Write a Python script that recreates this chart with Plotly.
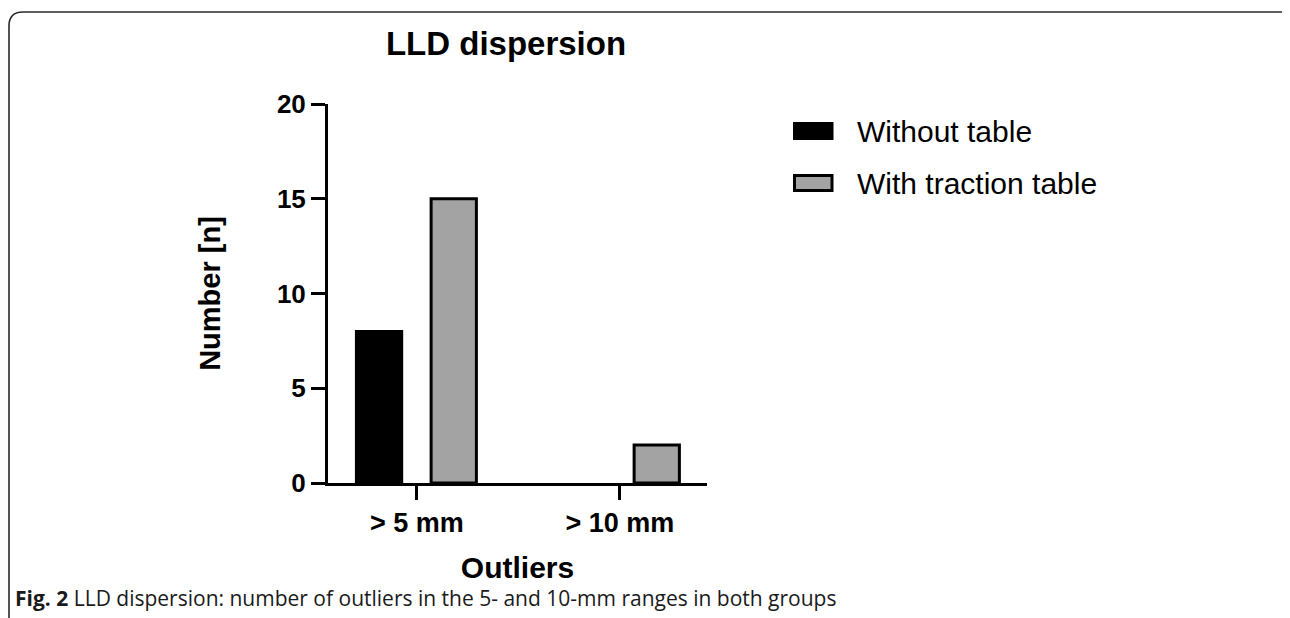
import plotly.graph_objects as go

# ---- data ----
categories = ["> 5 mm", "> 10 mm"]
series_names = ["Without table", "With traction table"]
without_table = [8, 0]
with_traction = [15, 2]
y_ticks = [0, 5, 10, 15, 20]

title_text = "LLD dispersion"
y_title = "Number [n]"
x_title = "Outliers"
caption_bold = "Fig. 2"
caption_text = "LLD dispersion: number of outliers in the 5- and 10-mm ranges in both groups"

# ---- layout geometry (pixels, page coordinates; page has an 8px body margin) ----
OFF = 8
W, H = 1290, 618
L, R, T, B = 328 - OFF, 707 - OFF, 104 - OFF, 483 - OFF
PW, PH = R - L, B - T


def px(x):
    return (x - OFF - L) / PW


def py(y):
    return (B - (y - OFF)) / PH


FONT = "Liberation Sans, Arial, sans-serif"
GRAY = "#a3a3a3"

fig = go.Figure()
fig.add_trace(go.Bar(
    x=categories, y=without_table, name=series_names[0],
    marker=dict(color="black",
                line=dict(color="black", width=[3 if v > 0 else 0 for v in without_table])),
    width=0.223, offset=-0.298, showlegend=False,
))
fig.add_trace(go.Bar(
    x=categories, y=with_traction, name=series_names[1],
    marker=dict(color=GRAY,
                line=dict(color="black", width=[3 if v > 0 else 0 for v in with_traction])),
    width=0.223, offset=0.07, showlegend=False,
))

# frame of the figure panel
frame = (f"M {px(9)},{py(640)} L {px(9)},{py(26)} Q {px(9)},{py(12)} {px(23)},{py(12)} "
         f"L {px(1282)},{py(12)} Q {px(1286)},{py(12)} {px(1287)},{py(16)}")
shapes = [dict(type="path", xref="paper", yref="paper", path=frame,
               line=dict(color="#2a2a2a", width=1.6), layer="above")]

# legend (custom, to match the wide swatches)
legend_items = [(series_names[0], "black", 131), (series_names[1], GRAY, 183)]
annotations = []
for name, color, yc in legend_items:
    shapes.append(dict(type="rect", xref="paper", yref="paper",
                       x0=px(794.5), x1=px(832), y0=py(yc - 7.5), y1=py(yc + 7.5),
                       fillcolor=color, line=dict(color="black", width=3)))
    annotations.append(dict(text=name, xref="paper", yref="paper",
                            x=px(855), y=py(yc), xanchor="left", yanchor="middle",
                            showarrow=False, font=dict(family=FONT, size=30, color="black")))

annotations.append(dict(
    text=f"<b>{caption_bold}</b> {caption_text}", xref="paper", yref="paper",
    x=px(13), y=py(598), xanchor="left", yanchor="middle", showarrow=False,
    font=dict(family="Open Sans, Noto Sans, sans-serif", size=21, color="#1a1a1a")))

fig.update_layout(
    width=W, height=H,
    margin=dict(l=L, r=W - R, t=T, b=H - B, pad=0),
    paper_bgcolor="white", plot_bgcolor="white",
    title=dict(text=f"<b>{title_text}</b>", x=px(506), xref="paper", xanchor="center",
               y=1 - (43 - OFF) / H, yref="container", yanchor="middle",
               font=dict(family=FONT, size=33, color="black")),
    shapes=shapes, annotations=annotations,
    showlegend=False,
)
fig.update_xaxes(
    type="category", range=[-0.438, 1.429],
    showline=True, linecolor="black", linewidth=3,
    ticks="outside", ticklen=14, tickwidth=3, tickcolor="black",
    tickfont=dict(family=FONT, size=27, color="black", weight="bold"),
    title=dict(text=f"<b>{x_title}</b>", font=dict(family=FONT, size=30, color="black"), standoff=20),
    showgrid=False, zeroline=False,
)
fig.update_yaxes(
    range=[0, 20], tickvals=y_ticks,
    showline=True, linecolor="black", linewidth=3,
    ticks="outside", ticklen=14, tickwidth=3, tickcolor="black",
    tickfont=dict(family=FONT, size=26, color="black", weight="bold"),
    title=dict(text=f"<b>{y_title}</b>", font=dict(family=FONT, size=29, color="black"), standoff=48),
    showgrid=False, zeroline=False,
)

fig.write_html("out.html")
